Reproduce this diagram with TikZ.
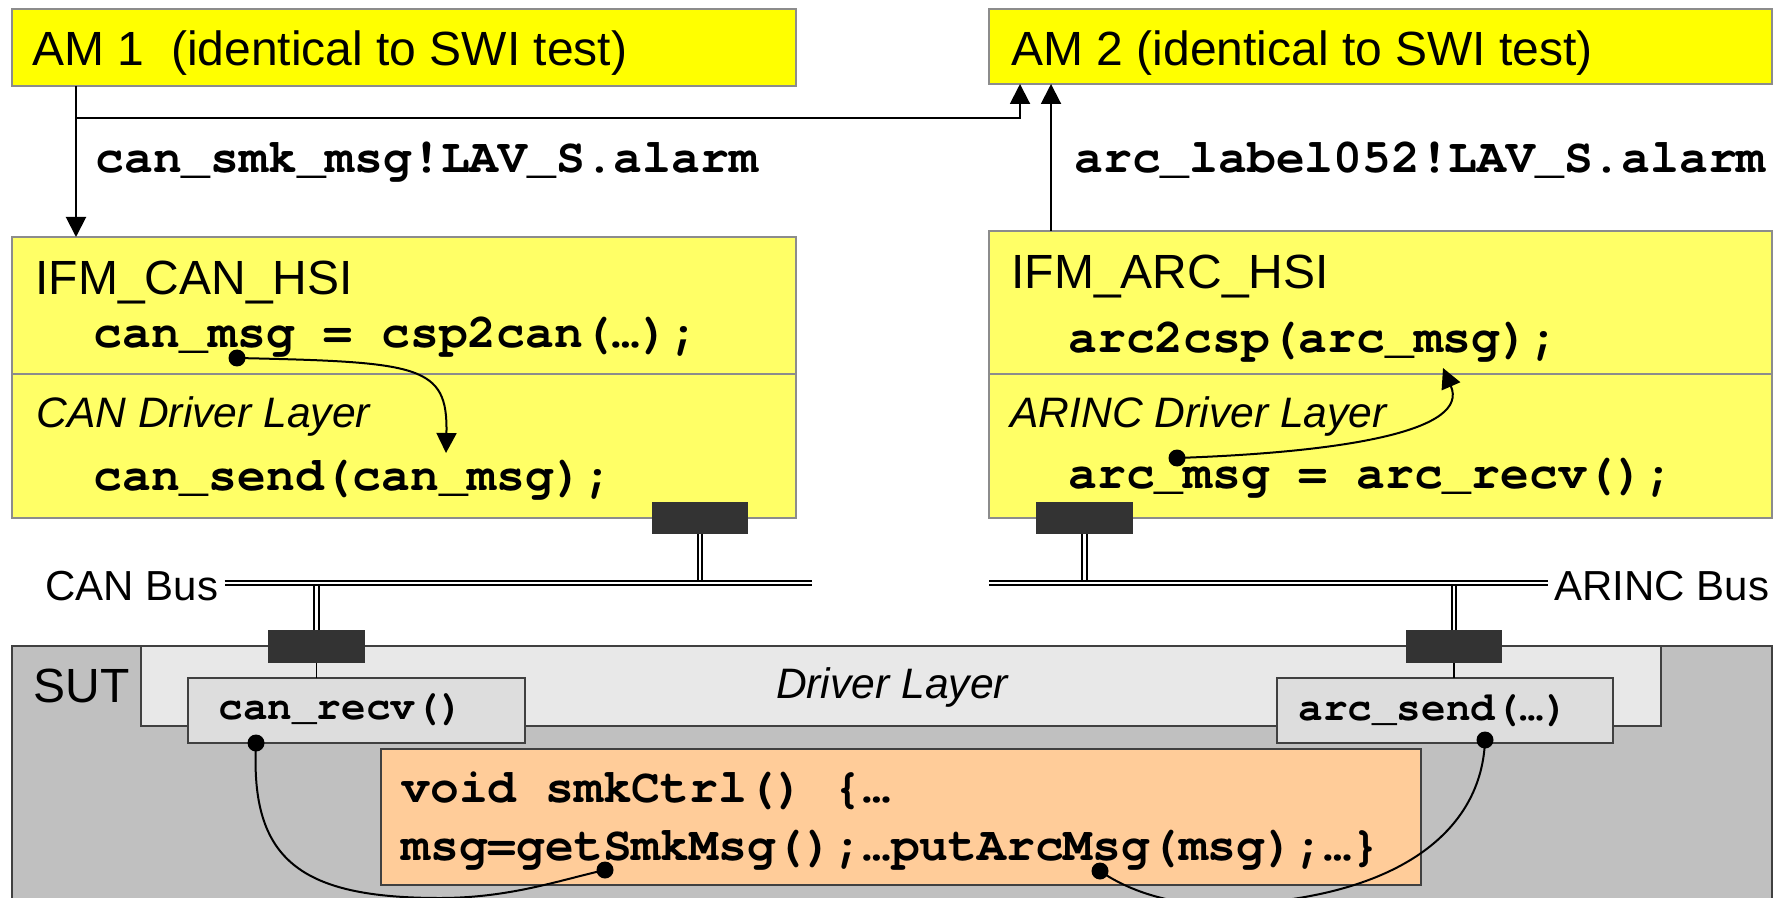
\documentclass[tikz,border=0pt]{standalone}
\usepackage{fontspec}
\setmainfont{Liberation Sans}
\setmonofont{TeX Gyre Cursor}
\usepackage{xcolor}
\usetikzlibrary{arrows.meta}
\usetikzlibrary{fit}
\definecolor{amyellow}{HTML}{FFFF00}
\definecolor{ifmyellow}{HTML}{FFFF66}
\definecolor{boxedge}{HTML}{8C8C8C}
\definecolor{sutgray}{HTML}{C0C0C0}
\definecolor{drvgray}{HTML}{E8E8E8}
\definecolor{fungray}{HTML}{DDDDDD}
\definecolor{smkorange}{HTML}{FFCC99}
\definecolor{plugdark}{HTML}{333333}
\colorlet{darkedge}{black!75}
\newcommand\bigtxt{\fontsize{24}{28}\selectfont}
\newcommand\laytxt{\fontsize{21.3}{25}\selectfont\itshape}
\newcommand\bustxt{\fontsize{21}{25}\selectfont}
\newcommand\codetxt{\fontsize{24}{28}\selectfont\ttfamily\bfseries}
\newcommand\fntxt{\fontsize{20.5}{24}\selectfont\ttfamily\bfseries}
\tikzstyle{boxbase}=[inner sep=0pt,outer sep=0pt,line width=.75pt]
\tikzstyle{ambox}=[boxbase,draw=boxedge,fill=amyellow]
\tikzstyle{ifmbox}=[boxbase,draw=boxedge,fill=ifmyellow]
\tikzstyle{sutbox}=[boxbase,draw=darkedge,fill=sutgray]
\tikzstyle{drvbox}=[boxbase,draw=darkedge,fill=drvgray]
\tikzstyle{fnbox}=[boxbase,draw=darkedge,fill=fungray]
\tikzstyle{smkbox}=[boxbase,draw=darkedge,fill=smkorange]
\tikzstyle{plug}=[boxbase,fill=plugdark]
\tikzstyle{lbl}=[anchor=base west,inner sep=0pt]
\tikzstyle{buslbl}=[lbl,inner xsep=3pt]
\tikzstyle{buswire}=[line width=.9pt,double=white,double distance=1.4pt]
\tikzstyle{msghead}=[>/.tip={Triangle[length=10pt,width=10pt]}]
\tikzstyle{msgarrow}=[line width=1pt,msghead,->]
\tikzstyle{msgline}=[line width=1pt]
\tikzstyle{msgdot}=[circle,fill=black,inner sep=0pt,minimum size=8.5pt]
\begin{document}
\begin{tikzpicture}[x=.5pt,y=-.5pt]
	\useasboundingbox (0,0) rectangle (1776,898);
	\node[ambox,fit={(12,9)(796,86)}] (am1) {};
	\node[ambox,fit={(989,9)(1772,84)}] (am2) {};
	\node[lbl] (am1txt) at (32,66) {\bigtxt AM 1\ \ (identical to SWI test)};
	\node[lbl] (am2txt) at (1011,66) {\bigtxt AM 2 (identical to SWI test)};
	\node[ifmbox,fit={(12,237)(796,374)}] (canhsi) {};
	\node[ifmbox,fit={(12,374)(796,518)}] (candrv) {};
	\node[ifmbox,fit={(989,231)(1772,374)}] (archsi) {};
	\node[ifmbox,fit={(989,374)(1772,518)}] (arcdrv) {};
	\draw[msgarrow] (am1.south west) ++(64,0) coordinate (am1out) -- (am1out |- canhsi.north);
	\coordinate (junc) at (76,118);
	\draw[msgarrow] (junc) -| ([xshift=15.5pt]am2.south west);
	\draw[msgarrow] (archsi.north west) ++(62,0) coordinate (arcout) -- (arcout |- am2.south);
	\node[lbl] (smkmsg) at (95,173) {\codetxt can\_smk\_msg!LAV\_S.alarm};
	\node[lbl] (arclabel) at (1074,173) {\codetxt arc\_label052!LAV\_S.alarm};
	\node[lbl] (canhsitxt) at (35,295) {\bigtxt IFM\_CAN\_HSI};
	\node[lbl] (cspcode) at (93,348) {\codetxt can\_msg = csp2can(…);};
	\node[lbl] (candrvtxt) at (36,427) {\laytxt CAN Driver Layer};
	\node[lbl] (sendcode) at (93,490) {\codetxt can\_send(can\_msg);};
	\node[lbl] (archsitxt) at (1011,289) {\bigtxt IFM\_ARC\_HSI};
	\node[lbl] (arccode) at (1068,352) {\codetxt arc2csp(arc\_msg);};
	\node[lbl] (arcdrvtxt) at (1010,427) {\laytxt ARINC Driver Layer};
	\node[lbl] (recvcode) at (1068,488) {\codetxt arc\_msg = arc\_recv();};
	\node[msgdot] (dotcan) at (237,358) {};
	\coordinate (tipcan) at (446,453);
	\draw[msgarrow] (dotcan.center) .. controls (420,362) and (448,365) .. (tipcan);
	\node[msgdot] (dotarc) at (1177,458) {};
	\coordinate (tiparc) at (1443,368);
	\draw[msgarrow] (dotarc.center) .. controls (1350,452) and (1470,430) .. (tiparc);
	% buses
	\node[sutbox,fit={(12,646)(1772,910)}] (sut) {};
	\node[drvbox,fit={(141,646)(1661,726)}] (drvlayer) {};
	\node[lbl] (suttxt) at (33,702) {\bigtxt SUT};
	\node[anchor=base,inner sep=0pt] (drvtxt) at (892,698) {\laytxt Driver Layer};
	\node[plug,fit={(652,502)(748,534)}] (plugcan) {};
	\node[plug,fit={(1036,502)(1133,534)}] (plugarc) {};
	\node[plug,fit={(268,630)(365,663)}] (plugrecv) {};
	\node[plug,fit={(1406,630)(1502,663)}] (plugsend) {};
	\node[buslbl] (canbus) at (39,600) {\bustxt CAN Bus};
	\node[buslbl] (arcbus) at (1548,600) {\bustxt ARINC Bus};
	\coordinate (canbusend) at (812,583);
	\coordinate (arcbusend) at (989,583);
	\draw[buswire] (plugcan.south) -- (plugcan.south |- canbusend);
	\draw[buswire] (plugarc.south) -- (plugarc.south |- arcbusend);
	\draw[buswire] (plugrecv.north) -- (plugrecv.north |- canbusend);
	\draw[buswire] (plugsend.north) -- (plugsend.north |- arcbusend);
	\draw[buswire] (canbus.east |- canbusend) -- (canbusend);
	\draw[buswire] (arcbusend) -- (arcbus.west |- arcbusend);
	\node[fnbox,fit={(188,678)(525,743)}] (canrecv) {};
	\node[fnbox,fit={(1277,678)(1613,743)}] (arcsend) {};
	\draw[line width=.6pt] (plugrecv.south) -- (plugrecv.south |- canrecv.north);
	\draw[line width=.6pt] (plugsend.south) -- (plugsend.south |- arcsend.north);
	\node[lbl] (canrecvtxt) at (218,719) {\fntxt can\_recv()};
	\node[lbl] (arcsendtxt) at (1298,720) {\fntxt arc\_send(…)};
	\node[smkbox,fit={(381,749)(1421,885)}] (smkctrl) {};
	\node[lbl] (smkline1) at (401,802) {\codetxt void smkCtrl() \{…};
	\node[lbl] (smkline2) at (401,860) {\codetxt msg=getSmkMsg();…putArcMsg(msg);…\}};
	\node[msgdot] (dotrecv) at (256,743) {};
	\node[msgdot] (dotget) at (605,870) {};
	\node[msgdot] (dotsend) at (1485,740) {};
	\node[msgdot] (dotput) at (1100,871) {};
	\draw[msgline] (dotrecv.center) .. controls (250,860) and (300,898) .. (440,898) .. controls (510,898) and (560,880) .. (dotget.center);
	\draw[msgline] (dotsend.center) .. controls (1482,830) and (1400,900) .. (1222,905) .. controls (1160,905) and (1120,885) .. (dotput.center);
\end{tikzpicture}
\end{document}
